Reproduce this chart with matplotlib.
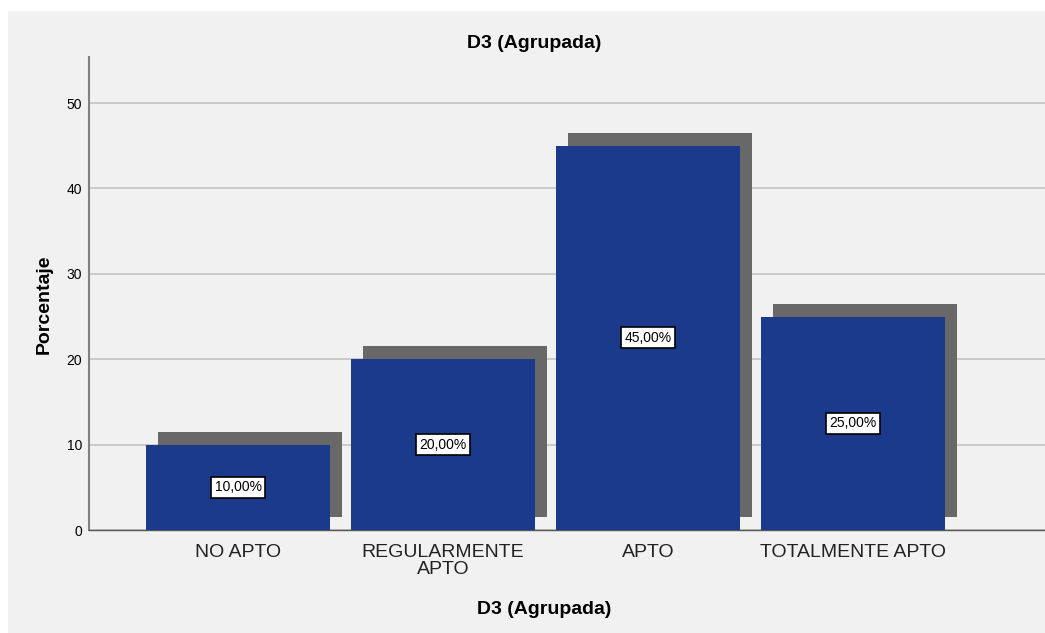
import matplotlib.pyplot as plt
import matplotlib.transforms as mtransforms
from matplotlib.patches import Rectangle

categorias = ['NO APTO', 'REGULARMENTE\nAPTO', 'APTO', 'TOTALMENTE APTO']
porcentajes = [10.0, 20.0, 45.0, 25.0]
etiquetas = ['10,00%', '20,00%', '45,00%', '25,00%']
ticks_y = [0, 10, 20, 30, 40, 50]

plt.rcParams['font.family'] = ['Liberation Sans', 'DejaVu Sans']

azul = '#1c3a8c'
sombra = '#686868'
fondo = '#f1f1f1'

fig = plt.figure(figsize=(10.45, 6.33), dpi=100)
fig.patch.set_facecolor('white')
# marco gris del visor, por debajo de los ejes
fig.patches.append(Rectangle((8 / 1045, 0), 1, (633 - 11) / 633,
                             transform=fig.transFigure, facecolor=fondo,
                             edgecolor='none', zorder=-10))

ax = fig.add_axes([89 / 1045, 1 - 530 / 633, 1 - 89 / 1045, (530 - 57) / 633])
ax.patch.set_alpha(0)

x = list(range(len(categorias)))

# sombra desplazada a la derecha y hacia arriba
desplaz = mtransforms.offset_copy(ax.transData, fig, x=12, y=13, units='dots')
ax.bar(x, porcentajes, width=0.9, color=sombra, transform=desplaz, zorder=2)
ax.bar(x, porcentajes, width=0.9, color=azul, zorder=3)

for xi, v, t in zip(x, porcentajes, etiquetas):
    ax.text(xi, v / 2, t, ha='center', va='center', fontsize=10, zorder=4,
            bbox=dict(boxstyle='square,pad=0.25', facecolor='white',
                      edgecolor='black', linewidth=1.2))

ax.set_xlim(-0.727, 3.937)
ax.set_ylim(0, 55.4)
ax.set_yticks(ticks_y)
ax.yaxis.grid(True, color='#c8c8c8', linewidth=1.3, zorder=1)
ax.set_axisbelow(True)

ax.set_xticks(x)
ax.set_xticklabels(categorias, fontsize=14, color='#222222')
for lab in ax.get_xticklabels():
    lab.set_linespacing(1.0)
ax.tick_params(axis='x', length=0, pad=10)
ax.tick_params(axis='y', length=0, pad=5, labelsize=10)

for lado in ['top', 'right']:
    ax.spines[lado].set_visible(False)
ax.spines['left'].set_color('#808080')
ax.spines['left'].set_linewidth(1.5)
ax.spines['bottom'].set_color('#555555')
ax.spines['bottom'].set_linewidth(1.0)

ax.set_ylabel('Porcentaje', fontsize=14, fontweight='bold')
ax.yaxis.set_label_coords(-0.038, 0.478)

fig.text(534 / 1045, 1 - 43 / 633, 'D3 (Agrupada)', ha='center', va='center',
         fontsize=14, fontweight='bold')
fig.text(544 / 1045, 1 - 609 / 633, 'D3 (Agrupada)', ha='center', va='center',
         fontsize=14, fontweight='bold')

fig.savefig('out.png', dpi=100, facecolor=fig.get_facecolor())
